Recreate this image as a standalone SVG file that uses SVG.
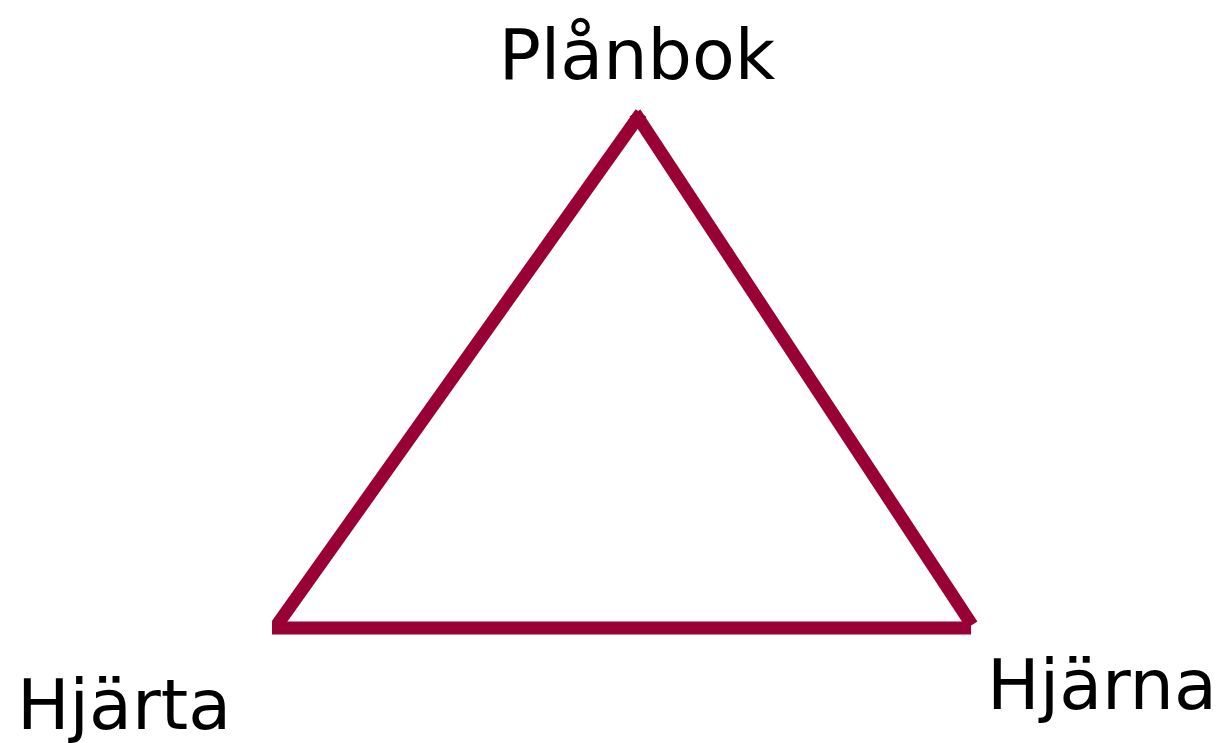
<svg xmlns="http://www.w3.org/2000/svg" width="1224" height="743" viewBox="0 0 1224 743">
<style>
.lbl{font-family:"DejaVu Sans",Verdana,sans-serif;font-size:70px;fill:#000}
.edge{stroke:#990033;stroke-width:13;stroke-linecap:butt;fill:none}
</style>
<rect width="1224" height="743" fill="#fff"/>
<g id="connectors">
<line class="edge" x1="641" y1="113" x2="277" y2="625"/>
<line class="edge" x1="635" y1="113" x2="972" y2="625"/>
<line class="edge" x1="272" y1="628" x2="971" y2="628"/>
</g>
<g id="node-planbok"><text class="lbl" x="637" y="79" text-anchor="middle">Plånbok</text></g>
<g id="node-hjarta"><text class="lbl" x="124" y="729" text-anchor="middle">Hjärta</text></g>
<g id="node-hjarna"><text class="lbl" x="1102" y="709" text-anchor="middle">Hjärna</text></g>
</svg>
